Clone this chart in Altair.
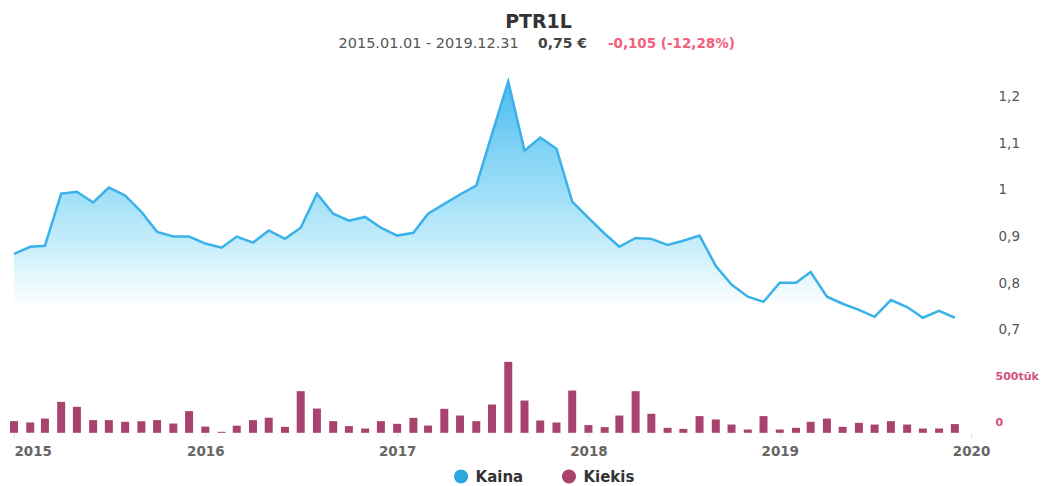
import altair as alt
import pandas as pd

# ---- data ----
months = pd.date_range("2015-01-01", periods=60, freq="MS")

price = [0.863, 0.878, 0.880, 0.992, 0.996, 0.973, 1.005, 0.988, 0.953, 0.910, 0.900, 0.900,
         0.885, 0.876, 0.900, 0.887, 0.913, 0.895, 0.919, 0.992, 0.949, 0.934, 0.942, 0.919,
         0.902, 0.908, 0.949, 0.970, 0.990, 1.009, 1.120, 1.232, 1.084, 1.112, 1.088, 0.975,
         0.940, 0.906, 0.878, 0.897, 0.895, 0.882, 0.891, 0.902, 0.837, 0.797, 0.771, 0.760,
         0.801, 0.801, 0.824, 0.771, 0.756, 0.743, 0.728, 0.764, 0.749, 0.726, 0.741, 0.726]

volume_k = [127, 112, 155, 337, 283, 138, 138, 120, 127, 138, 101, 236,
            68, 11, 78, 138, 163, 65, 453, 264, 127, 73, 47, 127,
            98, 163, 79, 261, 188, 127, 308, 772, 351, 134, 112, 460,
            84, 62, 188, 453, 207, 54, 43, 182, 145, 90, 36, 182,
            36, 54, 120, 155, 65, 109, 90, 127, 90, 47, 47, 95]

series_names = ["Kaina", "Kiekis"]
series_colors = ["#2ea6e0", "#a8436d"]
price_ticks = [0.7, 0.8, 0.9, 1.0, 1.1, 1.2]
price_floor = 0.64
volume_ticks = [0, 500]

title_text = "PTR1L"
period_text = "2015.01.01 - 2019.12.31"
last_text = "0,75 €"
change_text = "-0,105 (-12,28%)"

FONT = "DejaVu Sans"
W = 958

price_df = pd.DataFrame({"date": months, "price": price})
vol_df = pd.DataFrame({"date": months, "vol": volume_k, "s": ["Kiekis"] * len(months)})

x_domain = [alt.DateTime(year=2015, month=1, date=1), alt.DateTime(year=2020, month=1, date=1)]

# ---- header ----
def htext(txt, x, y, size, weight, color):
    return alt.Chart(pd.DataFrame({"t": [txt]})).mark_text(
        font=FONT, fontSize=size, fontWeight=weight, color=color,
        align="center", baseline="middle"
    ).encode(x=alt.value(x), y=alt.value(y), text="t:N")

header = alt.layer(
    htext(title_text, 525, 9, 19, "bold", "#333333"),
    htext(period_text, 415, 31, 14.5, "normal", "#555555"),
    htext(last_text, 549, 31, 14, "bold", "#444444"),
    htext(change_text, 658, 31, 13.5, "bold", "#f2607e"),
).properties(width=W, height=60)

# ---- price ----
xp = alt.X("date:T", scale=alt.Scale(domain=x_domain, padding=0), axis=None)
yp = alt.Y("price:Q",
           scale=alt.Scale(domain=[price_floor, 1.25], zero=False, nice=False),
           axis=alt.Axis(orient="right", values=price_ticks, format=".1~f",
                         labelExpr="replace(datum.label, '.', ',')",
                         grid=False, domain=False, ticks=False, labelPadding=27,
                         labelFont=FONT, labelFontSize=13.5, labelColor="#555555",
                         title=None))

area = alt.Chart(price_df).mark_area(
    color=alt.Gradient(
        gradient="linear", x1=0, y1=0, x2=0, y2=1,
        stops=[
            alt.GradientStop(offset=0.0, color="#4bbbee"),
            alt.GradientStop(offset=0.25, color="#82d3f5"),
            alt.GradientStop(offset=0.45, color="#a8e3f8"),
            alt.GradientStop(offset=0.6, color="#caeefb"),
            alt.GradientStop(offset=0.72, color="#e8f8fd"),
            alt.GradientStop(offset=0.82, color="#ffffff"),
            alt.GradientStop(offset=1.0, color="#ffffff"),
        ]),
    opacity=1,
).encode(x=xp, y=yp, y2=alt.datum(price_floor))

line = alt.Chart(price_df).mark_line(color="#3bb1e9", strokeWidth=2.5).encode(x=xp, y=yp)

price_chart = alt.layer(area, line).properties(width=W, height=285)

# ---- volume ----
bars = alt.Chart(vol_df).mark_bar(size=8).encode(
    x=alt.X("date:T", scale=alt.Scale(domain=x_domain, padding=0),
            axis=alt.Axis(format="%Y", tickCount=alt.TimeIntervalStep(interval="year", step=1),
                          grid=False, domain=False, ticks=True, tickSize=4,
                          tickColor="#dddddd", labelPadding=8,
                          labelAlign={"condition": {"test": "year(datum.value) == 2015", "value": "left"},
                                      "value": "center"},
                          labelFont=FONT, labelFontSize=13.5, labelFontWeight="bold",
                          labelColor="#666666", title=None)),
    y=alt.Y("vol:Q", scale=alt.Scale(domain=[0, 815], nice=False),
            axis=alt.Axis(orient="right", values=volume_ticks,
                          labelExpr="datum.value == 0 ? '0' : '500tūk'",
                          grid=False, domain=False, ticks=False, labelPadding=24,
                          labelOffset=-10,
                          labelFont=FONT, labelFontSize=11, labelFontWeight="bold",
                          labelColor="#d4507e", title=None)),
    color=alt.Color("s:N", scale=alt.Scale(domain=series_names, range=series_colors),
                    legend=alt.Legend(orient="none", legendX=440, legendY=456,
                                      direction="horizontal", title=None,
                                      symbolType="circle", symbolSize=200,
                                      symbolStrokeWidth=0, symbolOpacity=1,
                                      labelFont=FONT, labelFontSize=15,
                                      labelFontWeight="bold", labelColor="#333333",
                                      columnPadding=38, labelOffset=7)),
).properties(width=W, height=75)

chart = alt.vconcat(header, price_chart, bars, spacing=0).properties(
    padding={"left": 1, "top": 5, "right": 0, "bottom": 0}
).configure_view(stroke=None).configure_bar(color="#a8436d")

chart.save("out.html", embed_options={"renderer": "svg", "actions": False})
